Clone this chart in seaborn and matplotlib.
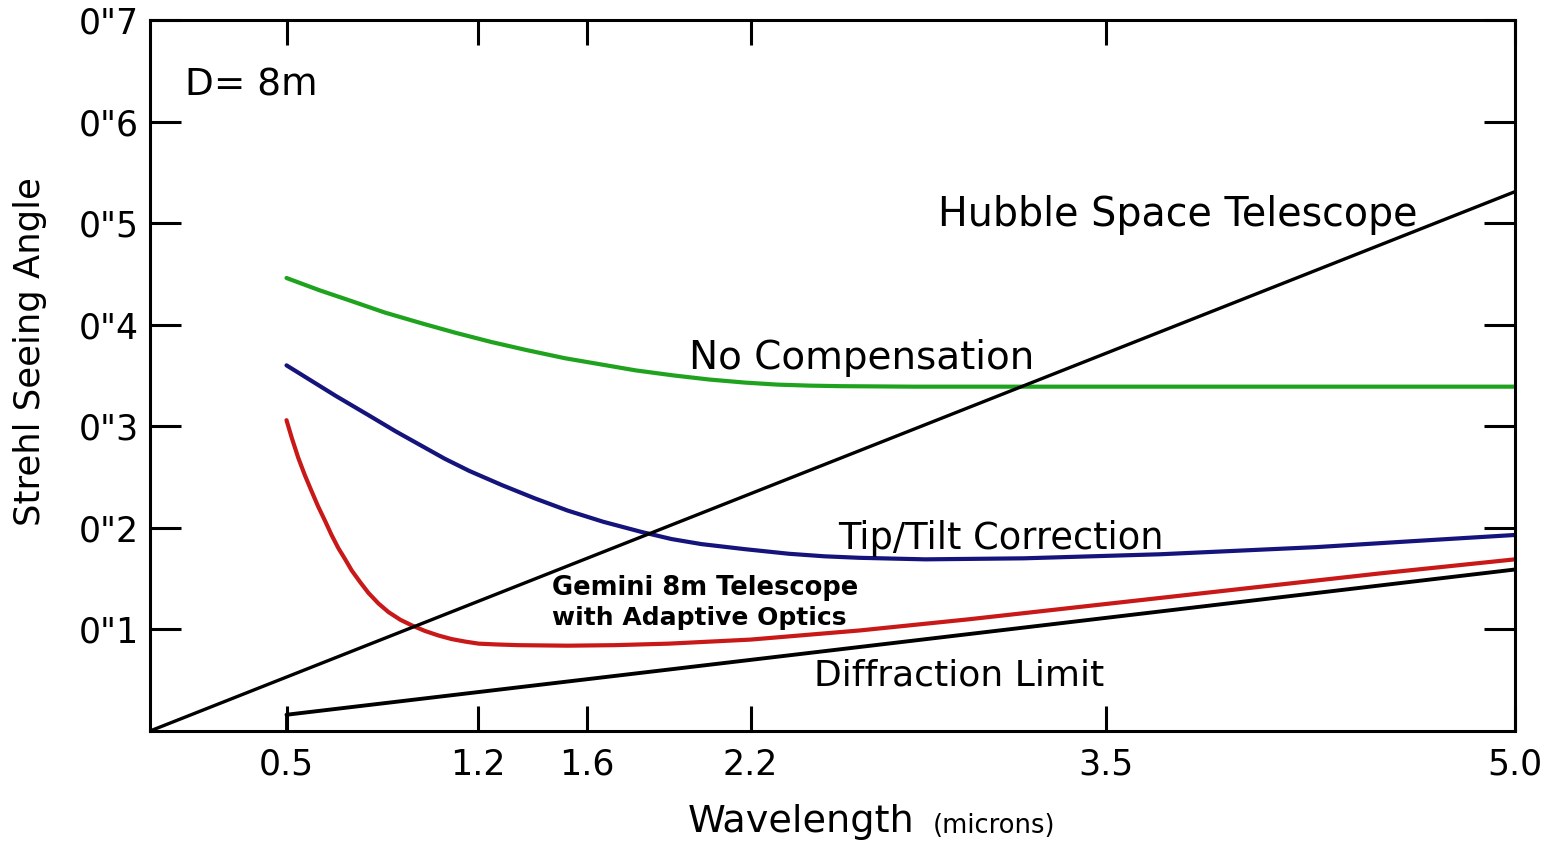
import numpy as np
import pandas as pd
import matplotlib
matplotlib.use("Agg")
import matplotlib.pyplot as plt
import seaborn as sns

# Wavelength (microns) and FWHM seeing angle (arcsec) for each curve
no_comp_wl = [0.5, 0.62, 0.73, 0.86, 1.0, 1.12, 1.25, 1.38, 1.52, 1.65, 1.78, 1.92,
              2.05, 2.18, 2.3, 2.42, 2.53, 2.8, 5.0]
no_comp_val = [0.446, 0.434, 0.424, 0.412, 0.401, 0.392, 0.383, 0.375, 0.367, 0.361,
               0.355, 0.350, 0.346, 0.343, 0.341, 0.340, 0.3395, 0.339, 0.339]

tiptilt_wl = [0.5, 0.59, 0.68, 0.8, 0.9, 1.0, 1.08, 1.17, 1.29, 1.41, 1.53, 1.66,
              1.8, 1.91, 2.02, 2.18, 2.34, 2.47, 2.6, 2.84, 3.2, 3.7, 4.27, 4.6, 5.0]
tiptilt_val = [0.360, 0.345, 0.330, 0.311, 0.295, 0.280, 0.268, 0.256, 0.242, 0.229,
               0.217, 0.206, 0.196, 0.189, 0.184, 0.179, 0.1745, 0.172, 0.1705, 0.169,
               0.170, 0.174, 0.181, 0.1865, 0.193]

ao_wl = [0.5, 0.52, 0.543, 0.567, 0.592, 0.616, 0.641, 0.665, 0.69, 0.715, 0.739,
         0.77, 0.8, 0.837, 0.874, 0.917, 0.959, 1.007, 1.057, 1.105, 1.155, 1.204,
         1.27, 1.35, 1.53, 1.7, 1.9, 2.2, 2.6, 3.0, 3.5, 4.0, 4.5, 5.0]
ao_val = [0.306, 0.288, 0.269, 0.252, 0.236, 0.221, 0.207, 0.193, 0.180, 0.169, 0.158,
          0.1465, 0.136, 0.1255, 0.117, 0.1095, 0.104, 0.0985, 0.094, 0.0905, 0.088,
          0.086, 0.0852, 0.0845, 0.084, 0.0845, 0.086, 0.090, 0.099, 0.110, 0.125,
          0.140, 0.155, 0.169]

hubble_wl = [0.0, 5.0]
hubble_val = [0.0, 0.531]

diffraction_wl = [0.5, 5.0]
diffraction_val = [0.016, 0.159]

x_ticks = [0.5, 1.2, 1.6, 2.2, 3.5, 5.0]
x_tick_labels = ["0.5", "1.2", "1.6", "2.2", "3.5", "5.0"]
y_ticks = [0.1, 0.2, 0.3, 0.4, 0.5, 0.6, 0.7]
y_tick_labels = ['0"1', '0"2', '0"3', '0"4', '0"5', '0"6', '0"7']

sns.set_style("ticks")
plt.rcParams["font.family"] = ["DejaVu Sans"]
plt.rcParams["text.color"] = "black"

fig = plt.figure(figsize=(15.46, 8.43), dpi=100)
ax = fig.add_axes([150 / 1546, 1 - 731 / 843, 1365 / 1546, 711 / 843])

curves = [
    (no_comp_wl, no_comp_val, "#1fa31f", 3.0),
    (tiptilt_wl, tiptilt_val, "#14147c", 3.0),
    (ao_wl, ao_val, "#c81818", 3.0),
    (hubble_wl, hubble_val, "black", 2.4),
    (diffraction_wl, diffraction_val, "black", 2.8),
]
for wl, val, color, lw in curves:
    df = pd.DataFrame({"wavelength": wl, "seeing": val})
    sns.lineplot(data=df, x="wavelength", y="seeing", color=color, linewidth=lw,
                 ax=ax, sort=False, estimator=None)
for ln in ax.lines:
    ln.set_solid_joinstyle("round")
    ln.set_solid_capstyle("round")

# short drop from the start of the diffraction line down to the axis
ax.plot([diffraction_wl[0], diffraction_wl[0]], [0, diffraction_val[0]],
        color="black", linewidth=2.8)

ax.set_xlim(0, 5.0)
ax.set_ylim(0, 0.7)
ax.set_xticks(x_ticks)
ax.set_xticklabels(x_tick_labels)
ax.set_yticks(y_ticks)
ax.set_yticklabels(y_tick_labels)
ax.tick_params(axis="both", direction="in", top=True, right=True, width=2.2,
               labelsize=25, colors="black")
ax.tick_params(axis="x", length=18, pad=12)
ax.tick_params(axis="y", length=22, pad=8)
for s in ax.spines.values():
    s.set_linewidth(2.2)
    s.set_color("black")
ax.set_xlabel("")
ax.set_ylabel("")

fig.text(30 / 1546, 1 - 352 / 843, "Strehl Seeing Angle", rotation=90,
         ha="center", va="center", fontsize=25.5)
fig.text(688 / 1546, 1 - 822 / 843, "Wavelength", ha="left", va="center", fontsize=27.5)
fig.text(933 / 1546, 1 - 826 / 843, "(microns)", ha="left", va="center", fontsize=18.5)

ax.text(0.13, 0.636, "D= 8m", fontsize=27, ha="left", va="center")
ax.text(2.885, 0.508, "Hubble Space Telescope", fontsize=28.5, ha="left", va="center")
ax.text(1.975, 0.367, "No Compensation", fontsize=28, ha="left", va="center")
ax.text(2.52, 0.190, "Tip/Tilt Correction", fontsize=26.5, ha="left", va="center")
ax.text(1.472, 0.141, "Gemini 8m Telescope", fontsize=18.5, fontweight="bold",
        ha="left", va="center")
ax.text(1.472, 0.111, "with Adaptive Optics", fontsize=18, fontweight="bold",
        ha="left", va="center")
ax.text(2.434, 0.055, "Diffraction Limit", fontsize=26, ha="left", va="center")

fig.savefig("out.png", dpi=100, facecolor="white")
